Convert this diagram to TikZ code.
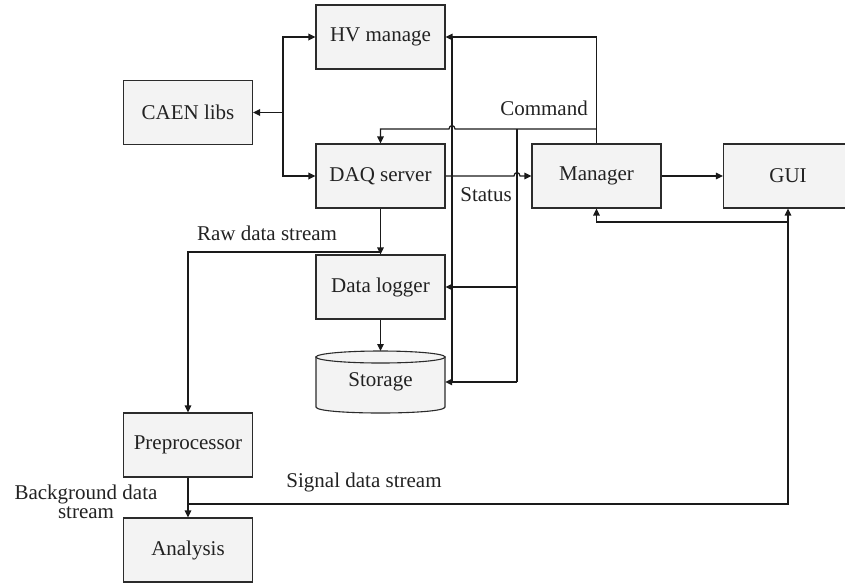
\documentclass[tikz,border=0pt]{standalone}
\usepackage{fontspec}
\setmainfont{Liberation Serif}
\usetikzlibrary{arrows.meta}
\definecolor{boxfill}{HTML}{F3F3F3}
\definecolor{boxline}{HTML}{2B2B2B}
\definecolor{lncol}{HTML}{1A1A1A}
\definecolor{txtcol}{HTML}{222222}
\begin{document}
\begin{tikzpicture}[x=1pt,y=-1pt,
  blk/.style={draw=boxline, fill=boxfill, line width=1.1pt, minimum width=129pt, minimum height=64pt, inner sep=0pt, text=txtcol, font=\fontsize{21}{24}\selectfont},
  conn/.style={line width=1.2pt, draw=lncol},
  thk/.style={line width=1.7pt, draw=lncol},
  arr/.style={conn, -{Triangle[length=7pt,width=6.5pt]}},
  tarr/.style={thk, -{Triangle[length=7pt,width=6.5pt]}},
  lbl/.style={font=\fontsize{21}{24}\selectfont, inner sep=0pt, text=txtcol}]
\useasboundingbox (0,0) rectangle (845,582);

% nodes
\node[blk] (hv)  at (380.5,37)  {HV manage};
\node[blk] (daq) at (380.5,176) {DAQ server};
\node[blk] (caen) at (188,112.5) {CAEN libs};
\node[blk] (mgr) at (596.5,176) {Manager};
\node[blk] (gui) at (788,176) {GUI};
\node[blk] (dl)  at (380.5,287) {Data logger};
\node[blk] (pre) at (188,445) {Preprocessor};
\node[blk] (ana) at (188,550) {Analysis};

% storage cylinder
\filldraw[draw=boxline, fill=boxfill, line width=1.1pt]
  (316,357) -- (316,407) .. controls (316,415) and (445,415) .. (445,407) -- (445,357) -- cycle;
\filldraw[draw=boxline, fill=boxfill, line width=1.1pt] (380.5,357) ellipse [x radius=64.5, y radius=6];
\node[minimum width=129pt, minimum height=50pt, inner sep=0pt, text=txtcol, font=\fontsize{21}{24}\selectfont] (st) at (380.5,382) {Storage};

% CAEN libs links
\coordinate (j) at (283,112.5);
\draw[tarr] (j) -- (caen.east);
\draw[tarr] (j) |- (hv.west);
\draw[tarr] (j) |- (daq.west);

% DAQ -> Manager (Status), with hop
\draw[arr] (daq.east) -- (514,176) .. controls (514,171.5) and (520,171.5) .. (520,176) -- (mgr.west);
\draw[arr] (mgr.east) -- (gui.west);

% Command lines
\draw[arr] (mgr.north) |- (hv.east);
\coordinate (cmdR) at (596.5,129);
\coordinate (cmdL) at (380.5,129);
\draw[arr] (cmdR) -- (455,129) .. controls (455,124.5) and (449,124.5) .. (449,129) -- (cmdL) -- (daq.north);
\coordinate (cb1) at (517,129);
\coordinate (cb2) at (517,287);
\coordinate (cb3) at (517,382);
\draw[conn] (cb1) -- (cb3);
\draw[arr] (cb2) -- (dl.east);
\draw[arr] (cb3) -- (st.east);

% status bus
\coordinate (sb1) at (452,37);
\coordinate (sb2) at (452,382);
\draw[conn] (sb1) -- (sb2);

% raw data stream
\draw[arr] (daq.south) -- (dl.north);
\coordinate (raw) at (380.5,252);
\draw[arr] (raw) -| (pre.north);
\draw[arr] (dl.south) -- (st.north |- 0,351);

% signal data stream
\draw[arr] (pre.south) -- (ana.north);
\coordinate (sig) at (188,504);
\draw[arr] (sig) -| (gui.south);
\coordinate (gm) at (788,222);
\draw[arr] (gm) -| (mgr.south);

% labels
\node[lbl] (lcmd) at (544,108) {Command};
\node[lbl] (lst) at (486,195) {Status};
\node[lbl] (lraw) at (267,233) {Raw data stream};
\node[lbl] (lsig) at (364,482) {Signal data stream};
\node[lbl, align=center, font=\fontsize{21}{19}\selectfont] (lbg) at (86,502) {Background data\\stream};
\end{tikzpicture}
\end{document}
